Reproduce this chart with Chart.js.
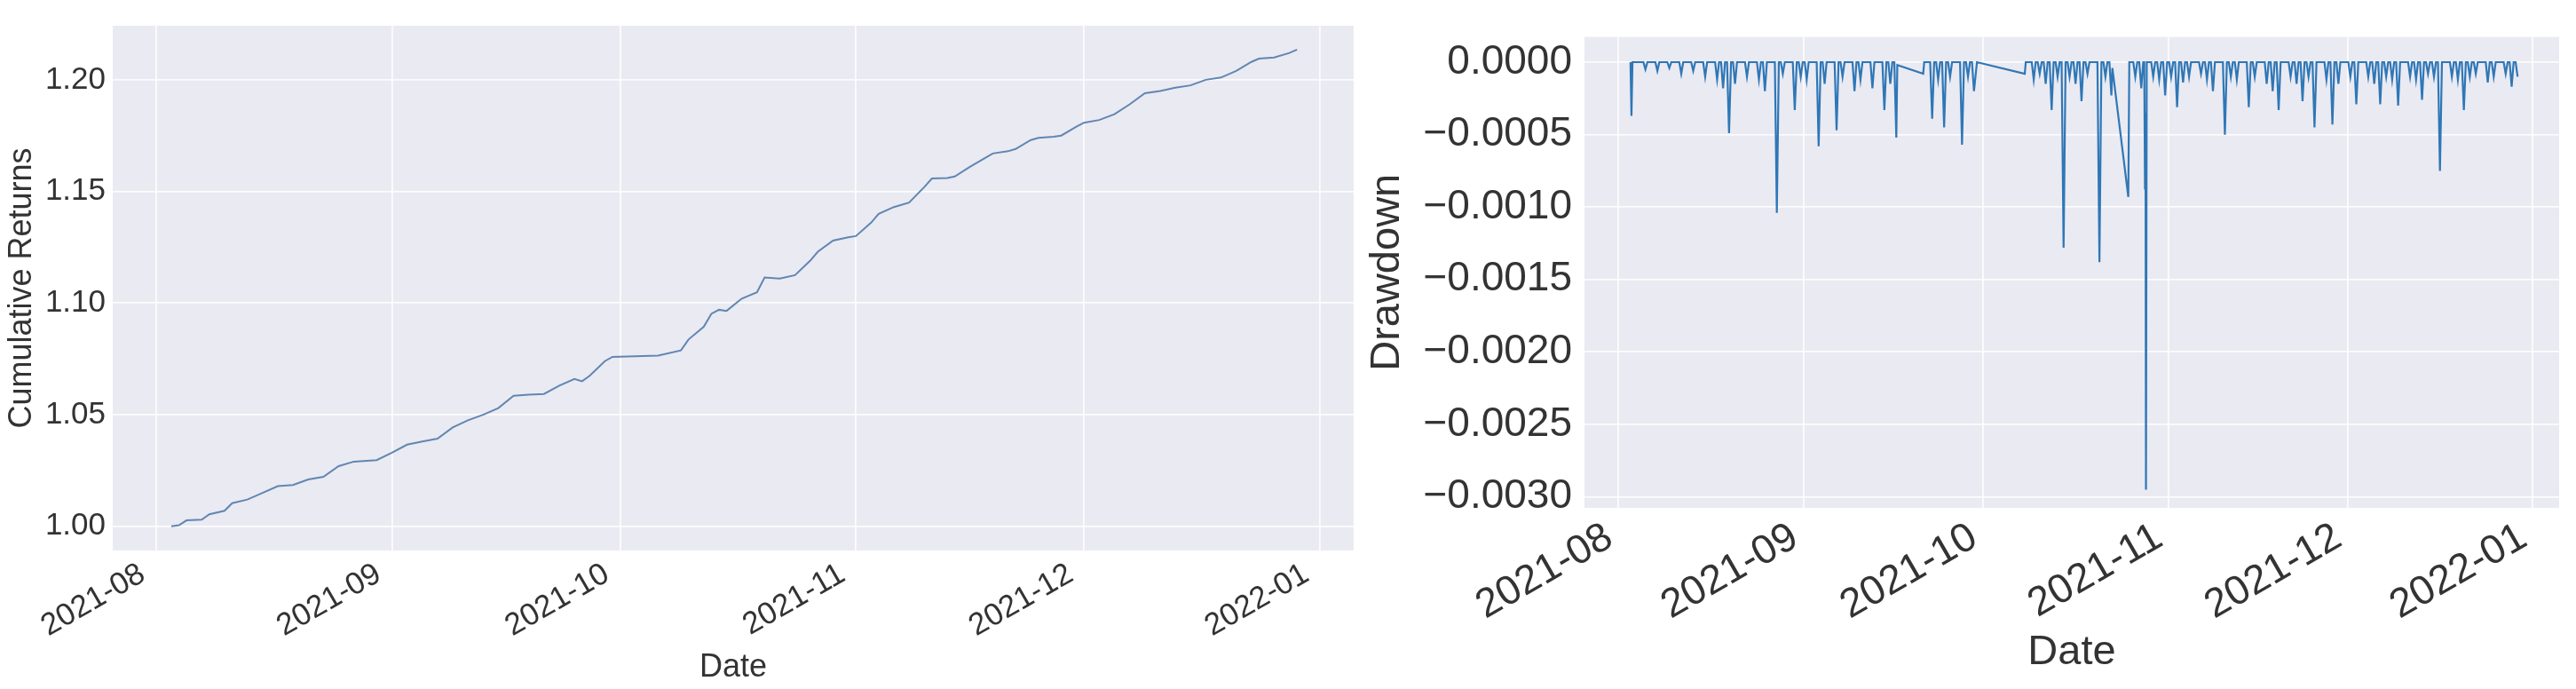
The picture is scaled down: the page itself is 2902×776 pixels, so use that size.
<!DOCTYPE html>
<html>
<head>
<meta charset="utf-8">
<script src="https://cdn.jsdelivr.net/npm/chart.js@4.4.0/dist/chart.umd.min.js"></script>
<style>
    html, body { margin: 0; padding: 0; background: #ffffff; }
    body { width: 2902px; height: 776px; position: relative; overflow: hidden; }
    canvas { position: absolute; top: 0; }
    #returnsChart { left: 0; }
    #drawdownChart { left: 1530px; }
</style>
</head>
<body>
<canvas id="returnsChart" width="1530" height="776"></canvas>
<canvas id="drawdownChart" width="1372" height="776"></canvas>
<script>
// Month ticks shared by both panels
const monthTicks = ['2021-08-01', '2021-09-01', '2021-10-01', '2021-11-01', '2021-12-01', '2022-01-01'];
const monthLabels = ['2021-08', '2021-09', '2021-10', '2021-11', '2021-12', '2022-01'];

// Cumulative returns (left panel)
const returnDates = [
    '2021-08-03', '2021-08-04', '2021-08-05', '2021-08-07', '2021-08-08', '2021-08-10', '2021-08-11',
    '2021-08-13', '2021-08-15', '2021-08-17', '2021-08-19', '2021-08-21', '2021-08-23', '2021-08-25',
    '2021-08-27', '2021-08-30', '2021-09-01', '2021-09-03', '2021-09-05', '2021-09-07', '2021-09-09',
    '2021-09-11', '2021-09-13', '2021-09-15', '2021-09-17', '2021-09-19', '2021-09-21', '2021-09-23',
    '2021-09-25', '2021-09-26', '2021-09-27', '2021-09-29', '2021-09-30', '2021-10-03', '2021-10-06',
    '2021-10-09', '2021-10-10', '2021-10-12', '2021-10-13', '2021-10-14', '2021-10-15', '2021-10-17',
    '2021-10-19', '2021-10-20', '2021-10-22', '2021-10-24', '2021-10-26', '2021-10-27', '2021-10-29',
    '2021-10-31', '2021-11-01', '2021-11-03', '2021-11-04', '2021-11-06', '2021-11-08', '2021-11-10',
    '2021-11-11', '2021-11-13', '2021-11-14', '2021-11-16', '2021-11-18', '2021-11-19', '2021-11-21',
    '2021-11-22', '2021-11-24', '2021-11-25', '2021-11-27', '2021-11-28', '2021-11-30', '2021-12-01',
    '2021-12-03', '2021-12-05', '2021-12-07', '2021-12-09', '2021-12-11', '2021-12-13', '2021-12-15',
    '2021-12-17', '2021-12-19', '2021-12-21', '2021-12-23', '2021-12-24', '2021-12-26', '2021-12-28',
    '2021-12-29'
];
const returnValues = [
    1.0000, 1.0005, 1.0027, 1.0030, 1.0054, 1.0070, 1.0104,
    1.0120, 1.0150, 1.0180, 1.0185, 1.0210, 1.0222, 1.0270,
    1.0290, 1.0297, 1.0330, 1.0366, 1.0380, 1.0393, 1.0443,
    1.0475, 1.0500, 1.0530, 1.0585, 1.0590, 1.0593, 1.0630,
    1.0660, 1.0650, 1.0674, 1.0740, 1.0759, 1.0762, 1.0765,
    1.0788, 1.0837, 1.0894, 1.0952, 1.0970, 1.0965, 1.1020,
    1.1048, 1.1115, 1.1110, 1.1125, 1.1190, 1.1230, 1.1280,
    1.1295, 1.1300, 1.1360, 1.1400, 1.1430, 1.1450, 1.1520,
    1.1558, 1.1560, 1.1567, 1.1610, 1.1650, 1.1670, 1.1680,
    1.1690, 1.1730, 1.1740, 1.1745, 1.1750, 1.1790, 1.1808,
    1.1820, 1.1846, 1.1890, 1.1940, 1.1950, 1.1965, 1.1975,
    1.2000, 1.2010, 1.2040, 1.2080, 1.2095, 1.2100, 1.2120,
    1.2135
];
const returnTicks = [1.00, 1.05, 1.10, 1.15, 1.20];

// Drawdown (right panel)
const drawdownDates = [
    '2021-08-03 00', '2021-08-03 04', '2021-08-03 08',
    '2021-08-05 04', '2021-08-05 12', '2021-08-05 20',
    '2021-08-07 04', '2021-08-07 12', '2021-08-07 20',
    '2021-08-09 04', '2021-08-09 12', '2021-08-09 20',
    '2021-08-11 04', '2021-08-11 12', '2021-08-11 20',
    '2021-08-13 04', '2021-08-13 12', '2021-08-13 20',
    '2021-08-15 04', '2021-08-15 12', '2021-08-15 20',
    '2021-08-17 04', '2021-08-17 12', '2021-08-17 20',
    '2021-08-18 04', '2021-08-18 12', '2021-08-18 20',
    '2021-08-19 04', '2021-08-19 12', '2021-08-19 20',
    '2021-08-20 04', '2021-08-20 12', '2021-08-20 20',
    '2021-08-22 04', '2021-08-22 12', '2021-08-22 20',
    '2021-08-24 04', '2021-08-24 12', '2021-08-24 20',
    '2021-08-25 04', '2021-08-25 12', '2021-08-25 20',
    '2021-08-27 04', '2021-08-27 12', '2021-08-27 20',
    '2021-08-28 04', '2021-08-28 12', '2021-08-28 20',
    '2021-08-30 04', '2021-08-30 12', '2021-08-30 20',
    '2021-08-31 04', '2021-08-31 12', '2021-08-31 20',
    '2021-09-01 04', '2021-09-01 12', '2021-09-01 20',
    '2021-09-03 04', '2021-09-03 12', '2021-09-03 20',
    '2021-09-04 04', '2021-09-04 12', '2021-09-04 20',
    '2021-09-06 04', '2021-09-06 12', '2021-09-06 20',
    '2021-09-07 04', '2021-09-07 12', '2021-09-07 20',
    '2021-09-09 04', '2021-09-09 12', '2021-09-09 20',
    '2021-09-10 04', '2021-09-10 12', '2021-09-10 20',
    '2021-09-12 04', '2021-09-12 12', '2021-09-12 20',
    '2021-09-14 04', '2021-09-14 12', '2021-09-14 20',
    '2021-09-15 04', '2021-09-15 12', '2021-09-15 20',
    '2021-09-16 04', '2021-09-16 12', '2021-09-16 16', '2021-09-21 00', '2021-09-21 04',
    '2021-09-22 04', '2021-09-22 12', '2021-09-22 20',
    '2021-09-23 04', '2021-09-23 12', '2021-09-23 20',
    '2021-09-24 04', '2021-09-24 12', '2021-09-24 20',
    '2021-09-25 04', '2021-09-25 12', '2021-09-25 20',
    '2021-09-27 04', '2021-09-27 12', '2021-09-27 20',
    '2021-09-28 04', '2021-09-28 12', '2021-09-28 20',
    '2021-09-29 04', '2021-09-29 12', '2021-09-30 00', '2021-10-08 00', '2021-10-08 04',
    '2021-10-09 04', '2021-10-09 12', '2021-10-09 20',
    '2021-10-10 04', '2021-10-10 12', '2021-10-10 20',
    '2021-10-11 04', '2021-10-11 12', '2021-10-11 20',
    '2021-10-12 04', '2021-10-12 12', '2021-10-12 20',
    '2021-10-13 04', '2021-10-13 12', '2021-10-13 20',
    '2021-10-14 04', '2021-10-14 12', '2021-10-14 20',
    '2021-10-15 04', '2021-10-15 12', '2021-10-15 20',
    '2021-10-16 04', '2021-10-16 12', '2021-10-16 20',
    '2021-10-17 04', '2021-10-17 12', '2021-10-17 20',
    '2021-10-18 04', '2021-10-18 12', '2021-10-18 20',
    '2021-10-20 04', '2021-10-20 12', '2021-10-20 20',
    '2021-10-21 04', '2021-10-21 12', '2021-10-21 20',
    '2021-10-22 04', '2021-10-22 12', '2021-10-22 16', '2021-10-25 08', '2021-10-25 12',
    '2021-10-26 04', '2021-10-26 12', '2021-10-26 20',
    '2021-10-27 04', '2021-10-27 12', '2021-10-27 20',
    '2021-10-28 00', '2021-10-28 03', '2021-10-28 05', '2021-10-28 07', '2021-10-28 10',
    '2021-10-29 04', '2021-10-29 12', '2021-10-29 20',
    '2021-10-30 04', '2021-10-30 12', '2021-10-30 20',
    '2021-10-31 04', '2021-10-31 12', '2021-10-31 20',
    '2021-11-01 04', '2021-11-01 12', '2021-11-01 20',
    '2021-11-02 04', '2021-11-02 12', '2021-11-02 20',
    '2021-11-03 04', '2021-11-03 12', '2021-11-03 20',
    '2021-11-04 04', '2021-11-04 12', '2021-11-04 20',
    '2021-11-06 04', '2021-11-06 12', '2021-11-06 20',
    '2021-11-07 04', '2021-11-07 12', '2021-11-07 20',
    '2021-11-08 04', '2021-11-08 12', '2021-11-08 20',
    '2021-11-10 04', '2021-11-10 12', '2021-11-10 20',
    '2021-11-11 04', '2021-11-11 12', '2021-11-11 20',
    '2021-11-12 04', '2021-11-12 12', '2021-11-12 20',
    '2021-11-14 04', '2021-11-14 12', '2021-11-14 20',
    '2021-11-15 04', '2021-11-15 12', '2021-11-15 20',
    '2021-11-17 04', '2021-11-17 12', '2021-11-17 20',
    '2021-11-18 04', '2021-11-18 12', '2021-11-18 20',
    '2021-11-19 04', '2021-11-19 12', '2021-11-19 20',
    '2021-11-21 04', '2021-11-21 12', '2021-11-21 20',
    '2021-11-22 04', '2021-11-22 12', '2021-11-22 20',
    '2021-11-23 04', '2021-11-23 12', '2021-11-23 20',
    '2021-11-24 04', '2021-11-24 12', '2021-11-24 20',
    '2021-11-25 04', '2021-11-25 12', '2021-11-25 20',
    '2021-11-27 04', '2021-11-27 12', '2021-11-27 20',
    '2021-11-28 04', '2021-11-28 12', '2021-11-28 20',
    '2021-11-29 04', '2021-11-29 12', '2021-11-29 20',
    '2021-12-01 04', '2021-12-01 12', '2021-12-01 20',
    '2021-12-02 04', '2021-12-02 12', '2021-12-02 20',
    '2021-12-04 04', '2021-12-04 12', '2021-12-04 20',
    '2021-12-05 04', '2021-12-05 12', '2021-12-05 20',
    '2021-12-06 04', '2021-12-06 12', '2021-12-06 20',
    '2021-12-07 04', '2021-12-07 12', '2021-12-07 20',
    '2021-12-08 04', '2021-12-08 12', '2021-12-08 20',
    '2021-12-09 04', '2021-12-09 12', '2021-12-09 20',
    '2021-12-11 04', '2021-12-11 12', '2021-12-11 20',
    '2021-12-12 04', '2021-12-12 12', '2021-12-12 20',
    '2021-12-13 04', '2021-12-13 12', '2021-12-13 20',
    '2021-12-14 04', '2021-12-14 12', '2021-12-14 20',
    '2021-12-15 04', '2021-12-15 12', '2021-12-15 20',
    '2021-12-16 04', '2021-12-16 12', '2021-12-16 20',
    '2021-12-18 04', '2021-12-18 12', '2021-12-18 20',
    '2021-12-19 04', '2021-12-19 12', '2021-12-19 20',
    '2021-12-20 04', '2021-12-20 12', '2021-12-20 20',
    '2021-12-21 04', '2021-12-21 12', '2021-12-21 20',
    '2021-12-22 04', '2021-12-22 12', '2021-12-22 20',
    '2021-12-24 04', '2021-12-24 12', '2021-12-24 20',
    '2021-12-25 04', '2021-12-25 12', '2021-12-25 20',
    '2021-12-27 04', '2021-12-27 12', '2021-12-27 20',
    '2021-12-28 04', '2021-12-28 12', '2021-12-28 20',
    '2021-12-29 04', '2021-12-29 12'
];
const drawdownValues = [
    0, -0.00037, 0,
    0, -0.00005, 0,
    0, -0.00006, 0,
    0, -0.00004, 0,
    0, -0.00008, 0,
    0, -0.00006, 0,
    0, -0.00010, 0,
    0, -0.00012, 0,
    0, -0.00018, 0,
    0, -0.00049, 0,
    0, -0.00015, 0,
    0, -0.00010, 0,
    0, -0.00012, 0,
    0, -0.00020, 0,
    0, -0.00104, 0,
    0, -0.00008, 0,
    0, -0.00033, 0,
    0, -0.00010, 0,
    0, -0.00012, 0,
    0, -0.00058, 0,
    0, -0.00015, 0,
    0, -0.00047, 0,
    0, -0.00010, 0,
    0, -0.00020, 0,
    0, -0.00012, 0,
    0, -0.00018, 0,
    0, -0.00033, 0,
    0, -0.00015, 0,
    0, -0.00052, -0.00002, -0.00008, 0,
    0, -0.00039, 0,
    0, -0.00012, 0,
    0, -0.00045, 0,
    0, -0.00010, 0,
    0, -0.00057, 0,
    0, -0.00010, 0,
    0, -0.00020, 0, -0.00008, 0,
    0, -0.00012, 0,
    0, -0.00008, 0,
    0, -0.00015, 0,
    0, -0.00033, 0,
    0, -0.00010, 0,
    0, -0.00128, 0,
    0, -0.00010, 0,
    0, -0.00015, 0,
    0, -0.00027, 0,
    0, -0.00008, 0,
    0, -0.00138, 0,
    0, -0.00010, 0,
    0, -0.00023, -0.00004, -0.00093, 0,
    0, -0.00010, 0,
    0, -0.00018, 0,
    0, -0.00088, -0.00035, -0.00295, 0,
    0, -0.00010, 0,
    0, -0.00012, 0,
    0, -0.00023, 0,
    0, -0.00010, 0,
    0, -0.00031, 0,
    0, -0.00014, 0,
    0, -0.00010, 0,
    0, -0.00008, 0,
    0, -0.00012, 0,
    0, -0.00020, 0,
    0, -0.00050, 0,
    0, -0.00010, 0,
    0, -0.00012, 0,
    0, -0.00031, 0,
    0, -0.00010, 0,
    0, -0.00015, 0,
    0, -0.00020, 0,
    0, -0.00033, 0,
    0, -0.00010, 0,
    0, -0.00015, 0,
    0, -0.00027, 0,
    0, -0.00010, 0,
    0, -0.00045, 0,
    0, -0.00012, 0,
    0, -0.00043, 0,
    0, -0.00015, 0,
    0, -0.00010, 0,
    0, -0.00029, 0,
    0, -0.00010, 0,
    0, -0.00015, 0,
    0, -0.00029, 0,
    0, -0.00010, 0,
    0, -0.00012, 0,
    0, -0.00030, 0,
    0, -0.00010, 0,
    0, -0.00012, 0,
    0, -0.00026, 0,
    0, -0.00008, 0,
    0, -0.00010, 0,
    0, -0.00075, 0,
    0, -0.00010, 0,
    0, -0.00012, 0,
    0, -0.00033, 0,
    0, -0.00010, 0,
    0, -0.00008, 0,
    0, -0.00014, 0,
    0, -0.00010, 0,
    0, -0.00008, 0,
    0, -0.00017, 0,
    0, -0.00010
];
const drawdownTicks = [0, -0.0005, -0.0010, -0.0015, -0.0020, -0.0025, -0.0030];

// 'YYYY-MM-DD' or 'YYYY-MM-DD HH' -> ms
function toTime(s) {
    const [day, hour] = s.split(' ');
    const [y, m, d] = day.split('-').map(Number);
    return Date.UTC(y, m - 1, d, hour ? Number(hour) : 0);
}

const DAY = 86400000;
const xStart = toTime('2021-08-01') - 5.7 * DAY;
const xEnd = toTime('2021-08-01') + 157.45 * DAY;
const monthValues = monthTicks.map(toTime);

const FONT = 'Liberation Sans, Arial, sans-serif';
const TEXT = '#333333';
const GRID = 'rgba(255, 255, 255, 0.85)';

// Seaborn-style grey plot area
const plotBackground = {
    id: 'plotBackground',
    beforeDraw(chart) {
        const { ctx, chartArea } = chart;
        ctx.save();
        ctx.fillStyle = '#eaeaf2';
        ctx.fillRect(chartArea.left, chartArea.top, chartArea.right - chartArea.left, chartArea.bottom - chartArea.top);
        ctx.restore();
    }
};

function dateAxis(height, fontSize, labelOffset, padding, titlePad) {
    return {
        type: 'linear',
        min: xStart,
        max: xEnd,
        afterBuildTicks: scale => { scale.ticks = monthValues.map(v => ({ value: v })); },
        afterFit: scale => { scale.height = height; },
        ticks: {
            autoSkip: false,
            minRotation: 30,
            maxRotation: 30,
            padding: padding,
            labelOffset: labelOffset,
            color: TEXT,
            font: { family: FONT, size: fontSize },
            callback: value => monthLabels[monthValues.indexOf(value)]
        },
        grid: { color: GRID, lineWidth: 1.8, drawTicks: false },
        border: { display: false },
        title: {
            display: true,
            text: 'Date',
            color: TEXT,
            font: { family: FONT, size: fontSize + 1 },
            padding: { top: 0, bottom: titlePad }
        }
    };
}

// Cumulative returns chart
const returnsChart = new Chart(document.getElementById('returnsChart'), {
    type: 'line',
    data: {
        datasets: [{
            label: 'Cumulative Returns',
            data: returnDates.map((d, i) => ({ x: toTime(d), y: returnValues[i] })),
            borderColor: '#6186b2',
            borderWidth: 2,
            pointRadius: 0,
            tension: 0
        }]
    },
    options: {
        responsive: false,
        animation: false,
        devicePixelRatio: 1,
        layout: { padding: { top: 10, right: 5, bottom: 0, left: 0 } },
        plugins: {
            legend: { display: false },
            tooltip: { enabled: false }
        },
        scales: {
            x: dateAxis(156, 35, -15, 6, 2),
            y: {
                min: 0.9892,
                max: 1.2242,
                afterBuildTicks: scale => { scale.ticks = returnTicks.map(v => ({ value: v })); },
                afterFit: scale => { scale.width = 127; },
                ticks: {
                    padding: 8,
                    color: TEXT,
                    font: { family: FONT, size: 35 },
                    callback: value => value.toFixed(2)
                },
                grid: { color: GRID, lineWidth: 1.8, drawTicks: false },
                border: { display: false },
                title: {
                    display: true,
                    text: 'Cumulative Returns',
                    color: TEXT,
                    font: { family: FONT, size: 36 },
                    padding: { top: 3, bottom: 0 }
                }
            }
        }
    },
    plugins: [plotBackground]
});

// Drawdown chart
const drawdownChart = new Chart(document.getElementById('drawdownChart'), {
    type: 'line',
    data: {
        datasets: [{
            label: 'Drawdown',
            data: drawdownDates.map((d, i) => ({ x: toTime(d), y: drawdownValues[i] })),
            borderColor: '#2f77b6',
            borderWidth: 2.2,
            pointRadius: 0,
            tension: 0
        }]
    },
    options: {
        responsive: false,
        animation: false,
        devicePixelRatio: 1,
        layout: { padding: { top: 13, right: 19, bottom: 0, left: 0 } },
        plugins: {
            legend: { display: false },
            tooltip: { enabled: false }
        },
        scales: {
            x: dateAxis(204, 46, -10, 6, 13),
            y: {
                min: -0.003076,
                max: 0.000174,
                afterBuildTicks: scale => { scale.ticks = drawdownTicks.map(v => ({ value: v })); },
                afterFit: scale => { scale.width = 255; },
                ticks: {
                    padding: 14,
                    color: TEXT,
                    font: { family: FONT, size: 46 },
                    callback: value => (value < 0 ? '\u2212' : '') + Math.abs(value).toFixed(4)
                },
                grid: { color: GRID, lineWidth: 1.8, drawTicks: false },
                border: { display: false },
                title: {
                    display: true,
                    text: 'Drawdown',
                    color: TEXT,
                    font: { family: FONT, size: 47 },
                    padding: { top: 5, bottom: 0 }
                }
            }
        }
    },
    plugins: [plotBackground]
});
</script>
</body>
</html>
